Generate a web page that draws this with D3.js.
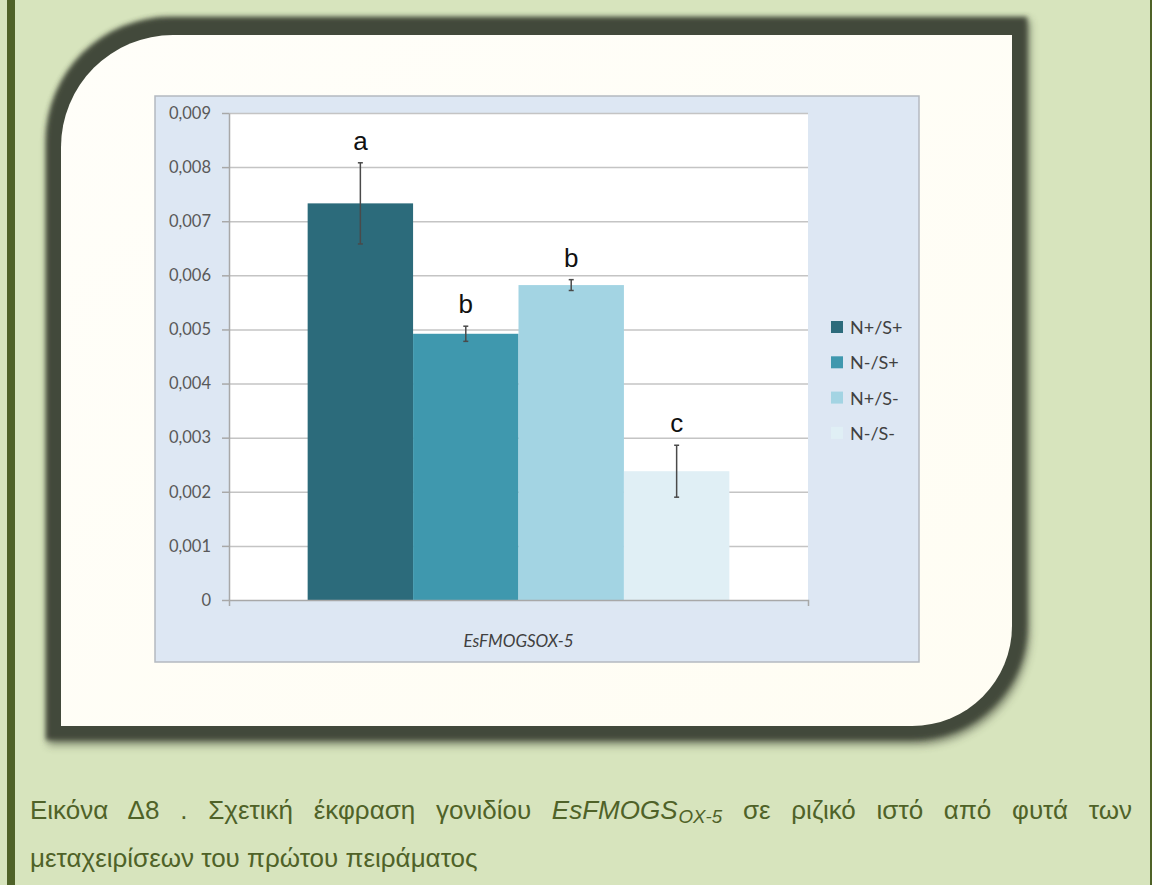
<!DOCTYPE html>
<html>
<head>
<meta charset="utf-8">
<script src="https://cdn.jsdelivr.net/npm/d3@7"></script>
<style>
  html, body { margin: 0; padding: 0; }
  body { width: 1152px; height: 885px; overflow: hidden; background: #d7e4bd; position: relative; }
  svg { position: absolute; left: 0; top: 0; }
  .cap {
    position: absolute; left: 30px; width: 1102px; white-space: nowrap;
    font-family: "Liberation Sans", Arial, sans-serif; font-size: 26px; line-height: 30px;
    color: #4f6228;
  }
  .cap.l1 { top: 795px; text-align: justify; text-align-last: justify; white-space: normal; }
  .cap.l2 { top: 843px; text-align: left; }
  .cap sub { font-size: 0.72em; vertical-align: -0.22em; line-height: 0; margin-left: 1px; }
</style>
</head>
<body>
<script>
// Relative expression of the gene, one category, four treatments
const categories = ["EsFMOGSOX-5"];
const seriesNames = ["N+/S+", "N-/S+", "N+/S-", "N-/S-"];
const means = [0.00733, 0.00492, 0.00582, 0.00238];
const errors = [0.00075, 0.00014, 0.00010, 0.00048];
const letters = ["a", "b", "b", "c"];
const yTicks = [0, 0.001, 0.002, 0.003, 0.004, 0.005, 0.006, 0.007, 0.008, 0.009];
const seriesColors = ["#2c6b7b", "#3f98ae", "#a3d4e3", "#e0eff5"];

const W = 1152, H = 885;
const svg = d3.select("body").append("svg").attr("width", W).attr("height", H);
const defs = svg.append("defs");

defs.append("filter").attr("id", "soft").attr("x", "-10%").attr("y", "-10%").attr("width", "120%").attr("height", "120%")
  .append("feGaussianBlur").attr("stdDeviation", 2.5);
defs.append("filter").attr("id", "shadow").attr("x", "-10%").attr("y", "-10%").attr("width", "120%").attr("height", "120%")
  .append("feGaussianBlur").attr("stdDeviation", 4);

const panelGrad = defs.append("linearGradient").attr("id", "panelFill")
  .attr("x1", 0).attr("y1", 0).attr("x2", 1).attr("y2", 1);
panelGrad.append("stop").attr("offset", 0).attr("stop-color", "#fffef9");
panelGrad.append("stop").attr("offset", 1).attr("stop-color", "#fffdf3");

// page rules
svg.append("rect").attr("x", 7).attr("y", 0).attr("width", 8).attr("height", H).attr("fill", "#4f6228");
svg.append("rect").attr("x", 1150).attr("y", 0).attr("width", 2).attr("height", H).attr("fill", "#4f6228");

// frame: rounded top-left and bottom-right corners
function framePath(x0, y0, x1, y1, r1, r2) {
  return `M${x0 + r1},${y0} H${x1} V${y1 - r2} A${r2},${r2} 0 0 1 ${x1 - r2},${y1} H${x0} V${y0 + r1} A${r1},${r1} 0 0 1 ${x0 + r1},${y0} Z`;
}
svg.append("path").attr("d", framePath(48, 20, 1030, 745, 125, 115))
  .attr("fill", "#3a4030").attr("opacity", 0.55).attr("filter", "url(#shadow)");
svg.append("path").attr("d", framePath(46, 17, 1027, 740, 124, 114))
  .attr("fill", "#434a3b").attr("filter", "url(#soft)");
svg.append("path").attr("d", framePath(61, 35, 1012, 726, 112, 100))
  .attr("fill", "url(#panelFill)");

// chart box
const box = { x0: 155, y0: 96, x1: 919, y1: 662 };
svg.append("rect").attr("x", box.x0).attr("y", box.y0)
  .attr("width", box.x1 - box.x0).attr("height", box.y1 - box.y0)
  .attr("fill", "#dde7f3").attr("stroke", "#b4b9c0").attr("stroke-width", 1.5);

const plot = { left: 229, right: 808, top: 113, bottom: 600 };
svg.append("rect").attr("x", plot.left).attr("y", plot.top)
  .attr("width", plot.right - plot.left).attr("height", plot.bottom - plot.top)
  .attr("fill", "#ffffff");

const y = d3.scaleLinear().domain([0, 0.009]).range([plot.bottom, plot.top]);
const x0 = d3.scaleBand().domain(categories).range([plot.left, plot.right]).paddingOuter(0.1865).paddingInner(0);
const x1 = d3.scaleBand().domain(seriesNames).range([0, x0.bandwidth()]);

// gridlines
svg.append("g").attr("transform", `translate(${plot.left},0)`)
  .call(d3.axisLeft(y).tickValues(yTicks.filter(d => d > 0)).tickSize(-(plot.right - plot.left)).tickFormat(""))
  .call(g => g.select(".domain").remove())
  .call(g => g.selectAll("line").attr("stroke", "#c4c4c4").attr("stroke-width", 1.5));

// bars
const groups = svg.append("g").selectAll("g").data(categories).join("g")
  .attr("transform", d => `translate(${x0(d)},0)`);
const rows = seriesNames.map((s, i) => ({ s, v: means[i], e: errors[i], l: letters[i], c: seriesColors[i] }));
groups.selectAll("rect").data(rows).join("rect")
  .attr("x", d => x1(d.s)).attr("width", x1.bandwidth())
  .attr("y", d => y(d.v)).attr("height", d => y(0) - y(d.v))
  .attr("fill", d => d.c);

// y axis
const fmt = d => d === 0 ? "0" : d3.format(".3f")(d).replace(".", ",");
svg.append("g").attr("transform", `translate(${plot.left},0)`)
  .call(d3.axisLeft(y).tickValues(yTicks).tickSize(7).tickSizeOuter(0).tickPadding(11).tickFormat(fmt))
  .call(g => g.select(".domain").attr("stroke", "#a8a8a8").attr("stroke-width", 1.5))
  .call(g => g.selectAll(".tick line").attr("stroke", "#a8a8a8").attr("stroke-width", 1.5))
  .call(g => g.selectAll("text").attr("fill", "#595959")
    .style("font-family", "Lato, 'Open Sans', sans-serif").style("font-size", "16.5px"));

// x axis
svg.append("g").attr("transform", `translate(0,${plot.bottom})`)
  .call(d3.axisBottom(x0.copy().paddingOuter(0).range([plot.left, plot.right])).tickSize(0).tickSizeOuter(6).tickFormat(""))
  .call(g => g.select(".domain").attr("stroke", "#a8a8a8").attr("stroke-width", 1.5));

svg.append("text").attr("x", (plot.left + plot.right) / 2).attr("y", 640)
  .attr("text-anchor", "middle").attr("dominant-baseline", "central")
  .attr("fill", "#404040").style("font-family", "Lato, sans-serif").style("font-size", "17px").style("font-style", "italic")
  .text(categories[0]);

// error bars
const eb = groups.selectAll("g.err").data(rows).join("g").attr("class", "err")
  .attr("transform", d => `translate(${x1(d.s) + x1.bandwidth() / 2},0)`);
eb.append("line").attr("y1", d => y(d.v + d.e)).attr("y2", d => y(d.v - d.e))
  .attr("stroke", "#4a4a4a").attr("stroke-width", 1.5);
eb.append("line").attr("x1", -2.5).attr("x2", 2.5).attr("y1", d => y(d.v + d.e)).attr("y2", d => y(d.v + d.e))
  .attr("stroke", "#4a4a4a").attr("stroke-width", 1.5);
eb.append("line").attr("x1", -2.5).attr("x2", 2.5).attr("y1", d => y(d.v - d.e)).attr("y2", d => y(d.v - d.e))
  .attr("stroke", "#4a4a4a").attr("stroke-width", 1.5);

// significance letters
eb.append("text").attr("y", d => y(d.v + d.e) - 13).attr("text-anchor", "middle")
  .attr("fill", "#111").style("font-family", "'Liberation Sans', Arial, sans-serif").style("font-size", "26px")
  .text(d => d.l);

// legend
const legend = svg.append("g").attr("transform", "translate(831,327)");
const li = legend.selectAll("g").data(rows).join("g").attr("transform", (d, i) => `translate(0,${i * 35.3})`);
li.append("rect").attr("x", 0).attr("y", -6).attr("width", 12).attr("height", 12).attr("fill", d => d.c);
li.append("text").attr("x", 19).attr("y", 0).attr("dominant-baseline", "central")
  .attr("fill", "#404040").style("font-family", "Lato, sans-serif").style("font-size", "18px")
  .text(d => d.s);

// caption, two lines, first one justified
d3.select("body").append("div").attr("class", "cap l1")
  .html("Εικόνα Δ8 . Σχετική έκφραση γονιδίου <i>EsFMOGS<sub>OX-5</sub></i> σε ριζικό ιστό από φυτά των");
d3.select("body").append("div").attr("class", "cap l2")
  .text("μεταχειρίσεων του πρώτου πειράματος");
</script>
</body>
</html>
